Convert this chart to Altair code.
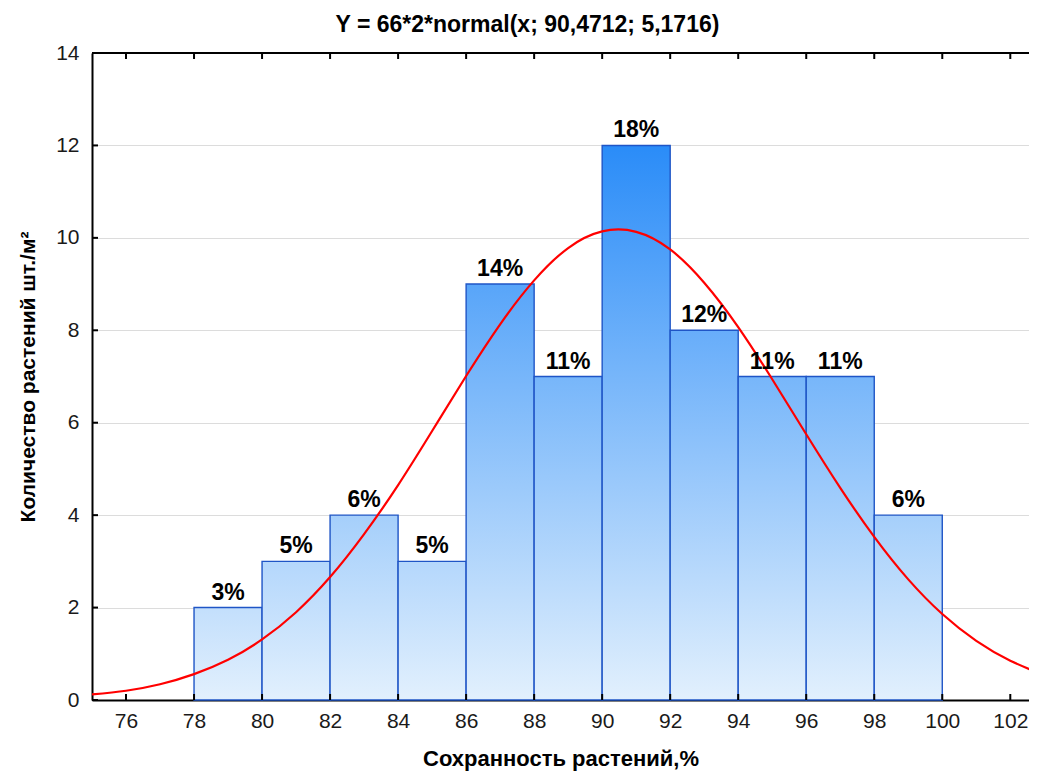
import altair as alt
import pandas as pd

# ---- data ----
bin_start = [78, 80, 82, 84, 86, 88, 90, 92, 94, 96, 98]
bin_end = [80, 82, 84, 86, 88, 90, 92, 94, 96, 98, 100]
counts = [2, 3, 4, 3, 9, 7, 12, 8, 7, 7, 4]
pct_labels = ["3%", "5%", "6%", "5%", "14%", "11%", "18%", "12%", "11%", "11%", "6%"]

curve_x = [75, 76, 77, 78, 79, 80, 81, 82, 83, 84, 85, 86, 87, 88, 89, 90,
           91, 92, 93, 94, 95, 96, 97, 98, 99, 100, 101, 102, 103]
curve_y = [0.12, 0.20, 0.34, 0.56, 0.87, 1.31, 1.90, 2.66, 3.59, 4.65, 5.82,
           7.01, 8.13, 9.08, 9.78, 10.14, 10.13, 9.75, 9.03, 8.07, 6.94, 5.75,
           4.59, 3.53, 2.61, 1.86, 1.28, 0.85, 0.54]

x_ticks = [76, 78, 80, 82, 84, 86, 88, 90, 92, 94, 96, 98, 100, 102]
y_ticks = [0, 2, 4, 6, 8, 10, 12, 14]

TITLE = "Y = 66*2*normal(x; 90,4712; 5,1716)"
X_TITLE = "Сохранность растений,%"
Y_TITLE = "Количество растений шт./м²"

FONT = "Liberation Sans"
W, H = 937, 647
X_DOMAIN = [75, 102.55]
Y_DOMAIN = [0, 14]

bars = pd.DataFrame({"start": bin_start, "end": bin_end, "count": counts, "label": pct_labels})
bars["mid"] = (bars["start"] + bars["end"]) / 2
curve = pd.DataFrame({"x": curve_x, "y": curve_y})
xt = pd.DataFrame({"t": x_ticks})
yt = pd.DataFrame({"t": y_ticks})

xscale = alt.Scale(domain=X_DOMAIN, nice=False, zero=False)
yscale = alt.Scale(domain=Y_DOMAIN, nice=False)

x_axis = alt.Axis(values=x_ticks, title=X_TITLE, ticks=False, grid=False,
                  domainColor="black", domainWidth=2,
                  labelFont=FONT, labelFontSize=21, labelColor="#1a1a1a", labelPadding=10,
                  titleFont=FONT, titleFontSize=22, titleFontWeight="bold", titleColor="black",
                  titlePadding=17)
y_axis = alt.Axis(values=y_ticks, title=Y_TITLE, ticks=False, grid=True,
                  gridColor="#dcdcdc", gridWidth=1.2,
                  domainColor="black", domainWidth=2,
                  labelFont=FONT, labelFontSize=21, labelColor="#1a1a1a", labelPadding=13,
                  titleFont=FONT, titleFontSize=21, titleFontWeight="bold", titleColor="black",
                  titlePadding=17)


def X(field):
    return alt.X(field, scale=xscale, axis=x_axis)


def Y(field):
    return alt.Y(field, scale=yscale, axis=y_axis)


def lerp_color(v):
    lo = (226, 240, 253)
    hi = (42, 140, 248)
    f = v / 12.0
    r, g, b = (round(lo[i] + (hi[i] - lo[i]) * f) for i in range(3))
    return f"#{r:02x}{g:02x}{b:02x}"


layers = []
for s, c in zip(bin_start, counts):
    grad = alt.LinearGradient(
        gradient="linear",
        stops=[alt.GradientStop(color=lerp_color(c), offset=0),
               alt.GradientStop(color=lerp_color(0), offset=1)],
        x1=0, x2=0, y1=0, y2=1,
    )
    layers.append(
        alt.Chart(bars).transform_filter(alt.datum.start == s)
        .mark_rect(fill=grad, stroke="#1f55c6", strokeWidth=1.4)
        .encode(x=X("start:Q"), x2="end:Q", y=Y("count:Q"), y2=alt.datum(0))
    )

labels = alt.Chart(bars).mark_text(
    font=FONT, fontSize=23, fontWeight="bold", color="black",
    baseline="alphabetic", dy=-8
).encode(x=X("mid:Q"), y=Y("count:Q"), text="label:N")

line = alt.Chart(curve).mark_line(color="#ff0000", strokeWidth=2.2, interpolate="natural", clip=True).encode(
    x=X("x:Q"), y=Y("y:Q")
)

top_frame = alt.Chart(xt).mark_rule(color="black", strokeWidth=2).encode(
    x=alt.value(0), x2=alt.value(W), y=alt.value(0)
)
top_ticks = alt.Chart(xt).mark_rule(color="black", strokeWidth=2).encode(
    x=X("t:Q"), y=alt.value(0), y2=alt.value(6)
)
bottom_ticks = alt.Chart(xt).mark_rule(color="black", strokeWidth=2).encode(
    x=X("t:Q"), y=alt.value(H), y2=alt.value(H - 6)
)
left_ticks = alt.Chart(yt).mark_rule(color="black", strokeWidth=2).encode(
    y=Y("t:Q"), x=alt.value(0), x2=alt.value(6)
)

chart = alt.layer(*layers, line, labels, top_frame, top_ticks, bottom_ticks, left_ticks).properties(
    width=W, height=H,
    title=alt.TitleParams(TITLE, font=FONT, fontSize=23, fontWeight="bold", color="black",
                          anchor="middle", offset=5, dx=-33),
    autosize=alt.AutoSizeParams(type="none"),
    padding={"left": 84, "top": 45, "right": 0, "bottom": 72},
    background="white",
).configure_view(stroke=None)

chart.save("out.html", embed_options={"renderer": "svg", "actions": False})
